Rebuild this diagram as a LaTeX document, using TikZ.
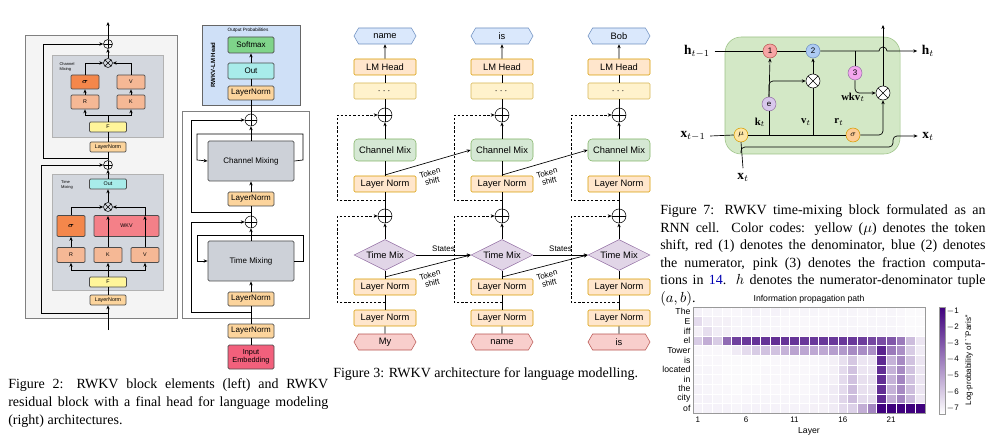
\documentclass[tikz,border=0pt]{standalone}
\usepackage{amsmath,amssymb}
\usepackage{fontspec}
\setmainfont{Liberation Serif}
\newfontfamily\sansf{Liberation Sans}
\usetikzlibrary{arrows.meta,shapes.geometric,shapes.symbols}
\definecolor{pnl}{HTML}{F4F4F4}\definecolor{inr}{HTML}{D3D7DE}
\definecolor{org}{HTML}{F4874B}\definecolor{sal}{HTML}{F5B895}
\definecolor{yel}{HTML}{FFF59A}\definecolor{tan}{HTML}{FCD49C}
\definecolor{cya}{HTML}{A8ECEA}\definecolor{pnk}{HTML}{F48088}
\definecolor{hbl}{HTML}{CFE0F7}\definecolor{grn}{HTML}{7FD48A}
\definecolor{emb}{HTML}{F2607C}\definecolor{gbx}{HTML}{CDD1D8}
\definecolor{oF}{HTML}{FFE6CC}\definecolor{oD}{HTML}{D79B00}
\definecolor{yF}{HTML}{FFF2CC}\definecolor{yD}{HTML}{D6B656}
\definecolor{gF}{HTML}{D5E8D4}\definecolor{gD}{HTML}{82B366}
\definecolor{pF}{HTML}{E1D5E7}\definecolor{pD}{HTML}{9673A6}
\definecolor{bF}{HTML}{DAE8FC}\definecolor{bD}{HTML}{6C8EBF}
\definecolor{rF}{HTML}{F8CECC}\definecolor{rD}{HTML}{B85450}
\definecolor{cellG}{HTML}{D3E8C6}
\definecolor{c1c}{HTML}{F6A5A5}\definecolor{c2c}{HTML}{ADCBF3}
\definecolor{c3c}{HTML}{F3A6EE}\definecolor{cec}{HTML}{D8C8EC}
\definecolor{cmc}{HTML}{FDE6A6}\definecolor{csc}{HTML}{FDCB94}
\definecolor{hm}{HTML}{3F007D}
\begin{document}
\begin{tikzpicture}[x=0.75pt,y=-0.75pt,
  sz/.style 2 args={minimum width=#1*0.75pt,minimum height=#2*0.75pt},
  b2/.style={draw=black!70,rounded corners=0.8pt,inner sep=0pt,font=\sansf\fontsize{4}{5}\selectfont,line width=0.5pt},
  br/.style={draw=black!70,rounded corners=1pt,inner sep=0pt,font=\sansf\fontsize{6}{7}\selectfont,line width=0.6pt,align=center},
  ar/.style={-{Stealth[length=3pt,width=2.5pt]},line width=0.5pt},
  ln/.style={line width=0.5pt},
  dsh/.style={dash pattern=on 1.8pt off 1.4pt},
  tsl/.style={font=\sansf\fontsize{6}{6.5}\selectfont,align=center,inner sep=1pt},
  pl/.style={circle,draw,inner sep=0pt,minimum size=#1*0.75pt,path picture={\draw (path picture bounding box.north)--(path picture bounding box.south) (path picture bounding box.west)--(path picture bounding box.east);}},
  ot/.style={circle,draw,inner sep=0pt,minimum size=#1*0.75pt,path picture={\draw (path picture bounding box.north west)--(path picture bounding box.south east) (path picture bounding box.south west)--(path picture bounding box.north east);}},
  f3/.style={draw,inner sep=0pt,sz={62}{16},font=\sansf\fontsize{7}{8}\selectfont,rounded corners=1pt},
  hex/.style={signal,signal to=east and west,signal pointer angle=120,draw,inner sep=0pt,sz={62}{16},font=\sansf\fontsize{7}{8}\selectfont},
  capt/.style={anchor=west,inner sep=0pt,font=\fontsize{10.5}{12}\selectfont},
  c7/.style={circle,draw,inner sep=0pt,minimum size=14*0.75pt,font=\sansf\fontsize{6}{7}\selectfont},
]
\useasboundingbox (0,0) rectangle (987,441);
% ================= Figure 2 left =================
\draw[fill=pnl,draw=black!50] (25,35) rectangle (177,318);
\draw[fill=inr,draw=black!30] (52,55) rectangle (163,137);
\draw[fill=inr,draw=black!30] (52,174) rectangle (163,290);
\node[font=\sansf\fontsize{3}{3.5}\selectfont,align=left] (lbc) at (67,67) {Channel\\Mixing};
\node[font=\sansf\fontsize{3}{3.5}\selectfont,align=left] (lbt) at (67,185) {Time\\Mixing};
\node[pl=9] (ap1) at (108,44) {};
\node[ot=9] (ao1) at (108,63) {};
\node[b2,fill=org,sz={28}{14}] (asg) at (85,82) {$\boldsymbol\sigma$};
\node[b2,fill=sal,sz={28}{14}] (av) at (131,82) {V};
\node[b2,fill=sal,sz={28}{14}] (ar) at (85,102) {R};
\node[b2,fill=sal,sz={28}{14}] (ak) at (131,102) {K};
\node[b2,fill=yel,sz={37}{10}] (af) at (108,127) {F};
\node[b2,fill=tan,sz={36}{10}] (aln) at (108,147) {LayerNorm};
\node[pl=9] (ap2) at (108,165) {};
\node[b2,fill=cya,sz={37}{10}] (aout) at (108,184) {Out};
\node[ot=9] (ao2) at (108,207) {};
\node[b2,fill=org,sz={28}{21}] (tsg) at (71,226) {$\boldsymbol\sigma$};
\node[b2,fill=pnk,sz={65}{21}] (twkv) at (126.5,226) {WKV};
\node[b2,fill=sal,sz={28}{15}] (tr) at (71,255) {R};
\node[b2,fill=sal,sz={28}{15}] (tk) at (108,255) {K};
\node[b2,fill=sal,sz={28}{15}] (tv) at (145,255) {V};
\node[b2,fill=yel,sz={37}{10}] (tf) at (108,282) {F};
\node[b2,fill=tan,sz={36}{10}] (tln) at (108,300) {LayerNorm};
\coordinate (abot) at (108,330);
\coordinate (atop) at (108,22);
\draw[ar] (ap1)--(atop);
\draw[ar] (ao1)--(ap1);
\draw[ar] (asg.north) |- (ao1.west);
\draw[ar] (av.north) |- (ao1.east);
\draw[ar] (ar)--(asg); \draw[ar] (ak)--(av);
\draw[ln] (af.north)--(108,115);
\draw[ar] (108,115) -| (ar.south); \draw[ar] (108,115) -| (ak.south);
\draw[ln] (aln)--(af);
\draw[ln] (ap2)--(aln);
\draw[ar] (108,158) -| (43,44) -- (ap1.west);
\draw[ar] (aout)--(ap2);
\draw[ar] (ao2)--(aout);
\draw[ar] (tsg.north) |- (ao2.west);
\draw[ar] (145,216) |- (ao2.east);
\draw[ar] (tr)--(tsg); \draw[ar] (tk)--(108,216); \draw[ar] (tv)--(145,216);
\draw[ln] (tf.north)--(108,270);
\draw[ar] (108,270) -| (tr.south); \draw[ar] (108,270) -| (tk.south); \draw[ar] (108,270) -| (tv.south);
\draw[ln] (tln)--(tf);
\draw[ar] (abot)--(tln);
\draw[ar] (108,313) -| (41,165) -- (ap2.west);
% ================= Figure 2 right =================
\draw[fill=white,draw=black!50] (182,111) rectangle (309,318);
\draw[fill=hbl,draw=black!60,line width=0.6pt] (202,25) rectangle (300,105);
\node[font=\sansf\fontsize{3.5}{4}\selectfont] (op) at (248,30) {Output Probabilities};
\node[font=\sansf\bfseries\fontsize{4.5}{5}\selectfont,rotate=90] (hd) at (213,65) {RWKV-LM Head};
\node[br,fill=grn,sz={46}{16}] (rsm) at (251,45) {Softmax};
\node[br,fill=cya,sz={46}{16}] (rout) at (251,71) {Out};
\node[br,fill=tan,sz={46}{14}] (rhln) at (251,93) {LayerNorm};
\node[pl=12] (rp2) at (251,120) {};
\node[br,fill=gbx,sz={86}{40}] (rcm) at (251,161) {Channel Mixing};
\node[br,fill=tan,sz={46}{14}] (rln2) at (251,199) {LayerNorm};
\node[pl=12] (rp1) at (251,222) {};
\node[br,fill=gbx,sz={86}{40}] (rtm) at (251,261) {Time Mixing};
\node[br,fill=tan,sz={46}{14}] (rln1) at (251,299) {LayerNorm};
\node[br,fill=tan,sz={46}{14}] (rln0) at (251,331) {LayerNorm};
\node[br,fill=emb,sz={46}{24},font=\sansf\fontsize{5.5}{6}\selectfont] (remb) at (251,357) {Input\\Embedding};
\draw[ar] (rout)--(rsm);
\draw[ln] (rhln)--(rout); \draw[ln] (rp2)--(rhln);
\draw[ar] (rcm)--(rp2); \draw[ar] (rln2)--(rcm); \draw[ln] (rp1)--(rln2);
\draw[ar] (rtm)--(rp1); \draw[ar] (rln1)--(rtm); \draw[ln] (rln0)--(rln1); \draw[ln] (remb)--(rln0);
\draw[ar] (251,312) -| (191,222) -- (rp1.west);
\draw[ar] (251,212) -| (191,120) -- (rp2.west);
\draw[ar] (251,235) -| (197,261) -- (rtm.west);
\draw[ln] (rtm.east) -- (303,261) |- (251,235);
\draw[ar] (251,134) -| (197,160) -- (rcm.west);
\draw[ln] (rcm.east) -- (303,160) |- (251,134);
% captions fig 2
\node[capt] (cap2a) at (8,385) {\makebox[240pt][s]{Figure 2:  RWKV block elements (left) and RWKV}};
\node[capt] (cap2b) at (8,403) {\makebox[240pt][s]{residual block with a final head for language modeling}};
\node[capt] (cap2c) at (8,421) {(right) architectures.};
% ================= Figure 3 =================
\foreach \i/\x/\o/\n in {1/385/name/My,2/502/is/name,3/619/Bob/is}{
  \node[hex,fill=bF,draw=bD] (o\i) at (\x,36) {\o};
  \node[f3,fill=oF,draw=oD] (lm\i) at (\x,67) {LM Head};
  \node[f3,fill=yF,draw=yD] (d\i) at (\x,91) {$\cdots$};
  \node[pl=14] (p\i) at (\x,115) {};
  \node[f3,fill=gF,draw=gD,sz={62}{22},rounded corners=3pt] (c\i) at (\x,150) {Channel Mix};
  \node[f3,fill=oF,draw=oD] (la\i) at (\x,184) {Layer Norm};
  \node[pl=14] (q\i) at (\x,216) {};
  \node[diamond,aspect=2.1,draw=pD,fill=pF,inner sep=0pt,sz={62}{31},font=\sansf\fontsize{7}{8}\selectfont] (t\i) at (\x,255) {Time Mix};
  \node[f3,fill=oF,draw=oD] (lb\i) at (\x,287) {Layer Norm};
  \node[f3,fill=oF,draw=oD] (lc\i) at (\x,318) {Layer Norm};
  \node[hex,fill=rF,draw=rD] (in\i) at (\x,342) {\n};
  \draw[ar] (lm\i)--(o\i); \draw[ln] (d\i)--(lm\i); \draw[ln] (p\i)--(d\i);
  \draw[ar] (c\i)--(p\i); \draw[ln] (la\i)--(c\i); \draw[ln] (q\i)--(la\i);
  \draw[ar] (t\i)--(q\i); \draw[ln] (lb\i)--(t\i); \draw[ln] (lc\i)--(lb\i); \draw[ln] (in\i)--(lc\i);
  \draw[ar,dsh] (\x,302) -| (\x-48,216) -- (q\i.west);
  \draw[ar,dsh] (\x,200) -| (\x-48,115) -- (p\i.west);
}
\foreach \i/\j/\x in {1/2/385,2/3/502}{
  \draw[ar] (\x,175) -- (c\j.west);
  \node[tsl,rotate=15] (ts\i) at (\x+46,177) {Token\\shift};
  \draw[ar] (\x,277) -- (t\j.west);
  \node[tsl,rotate=15] (tt\i) at (\x+46,279) {Token\\shift};
  \draw[ar] (t\i.east) -- (t\j.west) node[midway,above=1pt,tsl] {States};
}
\node[capt] (cap3) at (333,374) {Figure 3: RWKV architecture for language modelling.};
% ================= Figure 7 =================
\draw[fill=cellG,draw=gD!80,rounded corners=12pt] (725,37) rectangle (900,154);
\node[c7,fill=c1c,draw=rD] (g1) at (770,51) {1};
\node[c7,fill=c2c,draw=bD] (g2) at (813,51) {2};
\node[c7,fill=c3c,draw=pD] (g3) at (855,73) {3};
\node[ot=14,fill=white] (gx1) at (813,81) {};
\node[ot=14,fill=white] (gx2) at (883,93) {};
\node[c7,fill=cec,draw=pD] (ge) at (769,104) {e};
\node[c7,fill=cmc,draw=oD] (gmu) at (741,135) {$\mu$};
\node[c7,fill=csc,draw=oD] (gsg) at (853,135) {$\sigma$};
\node[font=\fontsize{10}{11}\selectfont] (hl) at (697,51) {$\mathbf{h}_{t-1}$};
\node[font=\fontsize{10}{11}\selectfont] (hr) at (928,51) {$\mathbf{h}_{t}$};
\node[font=\fontsize{10}{11}\selectfont] (xl) at (693,136) {$\mathbf{x}_{t-1}$};
\node[font=\fontsize{10}{11}\selectfont] (xr) at (928,136) {$\mathbf{x}_{t}$};
\node[font=\fontsize{10}{11}\selectfont] (xb) at (743,177) {$\mathbf{x}_{t}$};
\node[font=\fontsize{8}{9}\selectfont] (lk) at (760,122) {$\mathbf{k}_t$};
\node[font=\fontsize{8}{9}\selectfont] (lv) at (806,122) {$\mathbf{v}_t$};
\node[font=\fontsize{8}{9}\selectfont] (lr) at (839,122) {$\mathbf{r}_t$};
\node[font=\fontsize{8}{9}\selectfont] (lw) at (853,97) {$\mathbf{wkv}_t$};
\coordinate (gtop) at (883,25);
\draw[ln] (hl.east)--(g1.west);
\draw[ln] (g1.east)--(g2.west);
\draw[ar] (g2.east)--(879,51) arc(180:360:4) -- (hr.west);
\draw[ln] (855,51)--(g3.north);
\draw[ar,rounded corners=3pt] (g3.south) |- (gx2.west);
\draw[ln] (xl.east)--(gmu.west);
\draw[ln] (gmu.east)--(gsg.west);
\draw[ar,rounded corners=3pt] (gsg.east) -| (gx2.south);
\draw[ln] (769,135)--(ge.south);
\draw[ar] (ge.north)--(g1.south);
\draw[ar,rounded corners=3pt] (769,97) |- (gx1.west);
\draw[ln] (813,135)--(gx1.south);
\draw[ar] (gx1.north)--(g2.south);
\draw[ar] (gx2.north)--(gtop);
\draw[ln] (xb.north)--(gmu.south);
\draw[ar,rounded corners=3pt] (741,153) |- (893,147) |- (xr.west);
% caption fig 7
\node[capt] (c7a) at (660,211) {\makebox[244pt][s]{Figure 7: RWKV time-mixing block formulated as an}};
\node[capt] (c7b) at (660,229) {\makebox[244pt][s]{RNN cell. Color codes: yellow ($\mu$) denotes the token}};
\node[capt] (c7c) at (660,246) {\makebox[244pt][s]{shift, red (1) denotes the denominator, blue (2) denotes}};
\node[capt] (c7d) at (660,264) {\makebox[244pt][s]{the numerator, pink (3) denotes the fraction computa-}};
\node[capt] (c7e) at (660,281) {\makebox[244pt][s]{tions in \textcolor{blue!70!black}{14}. $h$ denotes the numerator-denominator tuple}};
\node[capt] (c7f) at (660,299) {$(a,b)$.};
% ================= Heatmap =================
\node[font=\sansf\fontsize{6.5}{7}\selectfont] (htitle) at (809,299) {Information propagation path};
\foreach \row [count=\r from 0] in {
 {5,4,4,3,3,4,5,4,5,4,3,4,4,3,3,4,4,3,4,3,4,3,2,2},
 {14,7,6,6,4,4,4,4,4,3,3,3,3,3,3,4,4,3,4,4,4,3,2,2},
 {6,13,7,6,4,4,4,4,4,3,3,3,3,3,3,4,4,4,4,4,4,3,2,2},
 {20,32,20,58,75,78,80,80,82,80,80,78,78,78,78,78,78,76,72,70,66,52,26,10},
 {3,3,3,3,8,14,20,24,24,30,36,35,34,34,38,40,46,45,44,86,52,44,20,8},
 {3,3,3,2,2,2,2,2,3,3,3,3,3,4,6,12,22,10,10,84,30,46,24,10},
 {4,4,3,2,2,2,2,3,3,3,3,3,3,4,6,14,24,10,10,82,30,46,24,10},
 {4,4,3,2,2,2,2,3,3,3,3,3,4,5,6,14,24,12,12,82,30,48,24,10},
 {5,4,3,3,2,3,3,3,3,3,3,3,4,5,8,14,26,12,12,82,30,46,26,10},
 {5,5,4,3,3,3,4,4,4,4,4,4,5,6,8,16,26,14,14,84,32,48,28,10},
 {5,5,5,5,4,5,5,5,5,5,5,5,6,6,8,14,18,32,48,100,100,100,100,100}}{
  \foreach \v [count=\cc from 0] in \row {
    \fill[hm!\v!white,draw=white,line width=0.3pt] ({693+\cc*9.667},{307+\r*9.636}) rectangle ++(9.667,9.636);
  }
}
\draw[black!40,line width=0.4pt] (693,307) rectangle (925,413);
\foreach \w [count=\r from 0] in {The,E,iff,el,Tower,is,located,in,the,city,of}{
  \node[anchor=east,inner sep=1pt,font=\sansf\fontsize{6.5}{7}\selectfont] (rw\r) at (692,{311.8+\r*9.636}) {\w};
}
\foreach \tk/\cc in {1/0,6/5,11/10,16/15,21/20}{
  \node[font=\sansf\fontsize{6}{7}\selectfont] (xt\tk) at ({697.8+\cc*9.667},420) {\tk};
}
\node[font=\sansf\fontsize{6.5}{7}\selectfont] (xlab) at (809,431) {Layer};
\shade[top color=hm,bottom color=white,draw=black!40,line width=0.3pt] (939,307) rectangle (945,414);
\foreach \k in {1,...,7}{
  \node[anchor=west,inner sep=1pt,font=\sansf\fontsize{6}{7}\selectfont] (cb\k) at (945,{294.8+\k*16.2}) {$-$\k};
}
\node[rotate=90,font=\sansf\fontsize{6}{7}\selectfont] (cbl) at (969,360) {Log-probability of ``Paris''};
\end{tikzpicture}
\end{document}
